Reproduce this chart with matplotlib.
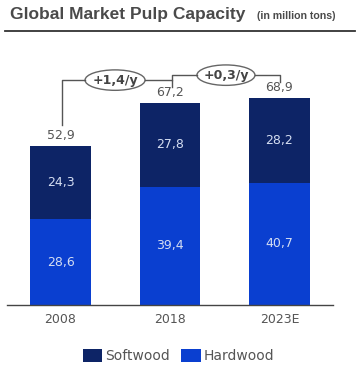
import matplotlib
matplotlib.use("Agg")
import matplotlib.pyplot as plt
from matplotlib.patches import Ellipse, Patch

categories = ["2008", "2018", "2023E"]
hardwood = [28.6, 39.4, 40.7]
softwood = [24.3, 27.8, 28.2]
totals = [52.9, 67.2, 68.9]
growth_labels = ["+1,4/y", "+0,3/y"]

c_soft = "#0d2466"
c_hard = "#0a3fd0"
c_text = "#555555"

fig = plt.figure(figsize=(3.57, 3.70), dpi=100)
ax = fig.add_axes([7/357, 65/370, 326/357, 265/370])
x = list(range(len(categories)))
w = 0.557
ax.bar(x, hardwood, width=w, color=c_hard)
ax.bar(x, softwood, width=w, bottom=hardwood, color=c_soft)

def fmt(v):
    return f"{v:.1f}".replace(".", ",")

for i in x:
    ax.text(i, hardwood[i] / 2, fmt(hardwood[i]), ha="center", va="center",
            color="#d5def2", fontsize=9)
    ax.text(i, hardwood[i] + softwood[i] / 2, fmt(softwood[i]), ha="center",
            va="center", color="#d5def2", fontsize=9)
    ax.annotate(fmt(totals[i]), (i, totals[i]), xytext=(0, 3),
                textcoords="offset points", ha="center", va="bottom",
                color=c_text, fontsize=9)

ax.set_xlim(-0.489, 2.489)
ax.set_ylim(0, 88.2)
for s in ["top", "right", "left"]:
    ax.spines[s].set_visible(False)
ax.spines["bottom"].set_color("#444444")
ax.spines["bottom"].set_linewidth(1.0)
ax.set_yticks([])
ax.set_xticks(x)
ax.set_xticklabels(categories, color=c_text, fontsize=9)
ax.tick_params(axis="x", length=0, pad=6)

lc = "#555555"
lw = 1.0
# connector 1
ax.plot([0.013, 0.013, 0.225], [59.9, 74.85, 74.85], color=lc, lw=lw, clip_on=False)
ax.plot([0.772, 1.018, 1.018], [74.85, 74.85, 72.5], color=lc, lw=lw, clip_on=False)
ax.add_patch(Ellipse((0.498, 74.85), 0.548, 6.8, facecolor="white",
                     edgecolor="#666666", lw=1.0, clip_on=False))
ax.text(0.498, 74.85, growth_labels[0], ha="center", va="center",
        color="#444444", fontsize=9, fontweight="bold")
# connector 2
ax.plot([1.018, 1.018, 1.247], [74.85, 76.5, 76.5], color=lc, lw=lw, clip_on=False)
ax.plot([1.775, 2.005, 2.005], [76.5, 76.5, 74.2], color=lc, lw=lw, clip_on=False)
ax.add_patch(Ellipse((1.511, 76.5), 0.53, 6.8, facecolor="white",
                     edgecolor="#666666", lw=1.0, clip_on=False))
ax.text(1.511, 76.5, growth_labels[1], ha="center", va="center",
        color="#444444", fontsize=9, fontweight="bold")

# title
fig.text(10/357, 1 - 15/370, "Global Market Pulp Capacity", ha="left", va="center",
         fontsize=12.5, fontweight="bold", color="#4a4a4a", family="Liberation Sans")
fig.text(257/357, 1 - 16/370, "(in million tons)", ha="left", va="center",
         fontsize=7.6, fontweight="bold", color="#4a4a4a", family="Liberation Sans")
fig.add_artist(plt.Line2D([5/357, 355/357], [1 - 31/370, 1 - 31/370],
                          color="#333333", lw=1.3))

handles = [Patch(facecolor=c_soft), Patch(facecolor=c_hard)]
fig.legend(handles, ["Softwood", "Hardwood"], loc="center",
           bbox_to_anchor=(0.5, 1 - 356/370), ncol=2, frameon=False,
           fontsize=10, labelcolor=c_text, handlelength=1.4, handleheight=1.1,
           handletextpad=0.2, columnspacing=0.8)

fig.savefig("out.png", dpi=100)
